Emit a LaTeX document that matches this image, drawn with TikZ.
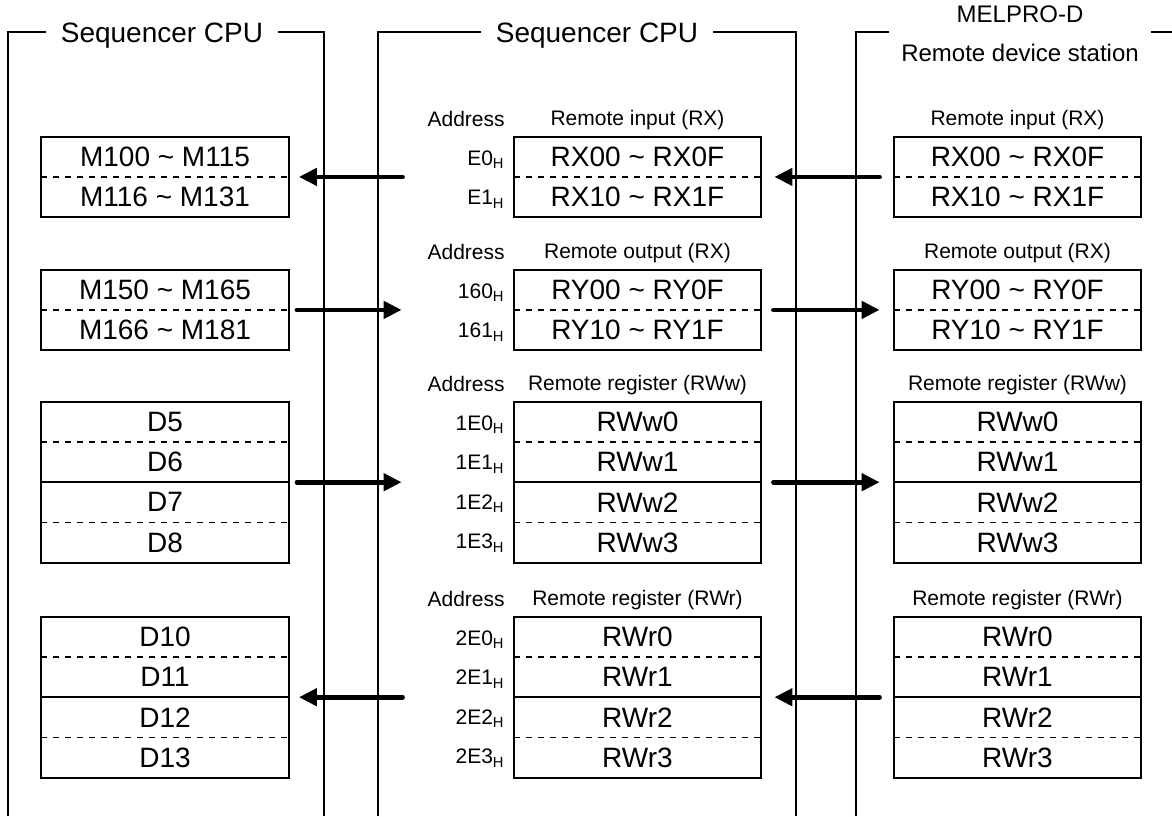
\documentclass[tikz,border=0pt]{standalone}
\usepackage{fontspec}
\setmainfont{Liberation Sans}
\usetikzlibrary{arrows.meta,positioning}

\tikzset{
  cell/.style={minimum width=123.5pt, minimum height=19.75pt, inner sep=0pt, font=\fontsize{14}{16}\selectfont},
  headlbl/.style={inner sep=0pt, font=\fontsize{10.5}{12}\selectfont},
  addr/.style={headlbl, anchor=base east},
  paneltitle/.style={fill=white, inner xsep=7.5pt, inner ysep=1pt, font=\fontsize{14}{16}\selectfont},
  boxline/.style={line width=1pt},
  panelline/.style={line width=0.85pt},
  divline/.style={line width=0.75pt, dash pattern=on 3pt off 3pt},
  dataflow/.style={line width=2.3pt, line cap=round, -{Triangle[length=9pt,width=8.5pt]}}
}

\begin{document}
\begin{tikzpicture}[x=0.5pt,y=-0.5pt]
	\useasboundingbox (0,0) rectangle (1172,816);
	\draw [panelline] (8,816) -- (8,32) -- (324,32) -- (324,816);
	\draw [panelline] (378,816) -- (378,32) -- (796,32) -- (796,816);
	\draw [panelline] (856,816) -- (856,32) -- (1172,32);
	\node [paneltitle, anchor=base] (cpua) at (162,42) {Sequencer CPU};
	\node [paneltitle, anchor=base] (cpub) at (597,42) {Sequencer CPU};
	\node [paneltitle, align=center, inner xsep=6.25pt, font=\fontsize{12}{19.5}\selectfont] (station) at (1020,34) {MELPRO-D\\Remote device station};

	% sequencer CPU (own)
	\node [cell] (m100) at (165,156.75) {M100 \textasciitilde{} M115};
	\node [cell, below=0pt of m100] (m116) {M116 \textasciitilde{} M131};
	\draw [boxline] (m100.north west) rectangle (m116.south east);
	\draw [divline] (m100.south west) -- (m100.south east);

	\node [cell] (m150) at (165,289.75) {M150 \textasciitilde{} M165};
	\node [cell, below=0pt of m150] (m166) {M166 \textasciitilde{} M181};
	\draw [boxline] (m150.north west) rectangle (m166.south east);
	\draw [divline] (m150.south west) -- (m150.south east);

	\node [cell] (d5) at (165,421.75) {D5};
	\node [cell, below=0pt of d5] (d6) {D6};
	\node [cell, below=0pt of d6] (d7) {D7};
	\node [cell, below=0pt of d7] (d8) {D8};
	\draw [boxline] (d5.north west) rectangle (d8.south east);
	\draw [divline] (d5.south west) -- (d5.south east);
	\draw [boxline] (d6.south west) -- (d6.south east);
	\draw [divline] (d7.south west) -- (d7.south east);

	\node [cell] (d10) at (165,636.75) {D10};
	\node [cell, below=0pt of d10] (d11) {D11};
	\node [cell, below=0pt of d11] (d12) {D12};
	\node [cell, below=0pt of d12] (d13) {D13};
	\draw [boxline] (d10.north west) rectangle (d13.south east);
	\draw [divline] (d10.south west) -- (d10.south east);
	\draw [boxline] (d11.south west) -- (d11.south east);
	\draw [divline] (d12.south west) -- (d12.south east);

	% sequencer CPU (master)
	\node [cell] (cpurx0) at (637.5,156.75) {RX00 \textasciitilde{} RX0F};
	\node [cell, below=0pt of cpurx0] (cpurx1) {RX10 \textasciitilde{} RX1F};
	\draw [boxline] (cpurx0.north west) rectangle (cpurx1.south east);
	\draw [divline] (cpurx0.south west) -- (cpurx0.south east);
	\node [headlbl, above=5.5pt of cpurx0.north, anchor=base] (hcpurx) {Remote input (RX)};
	\node [addr] (acpurx) at (505,126) {Address};
	\node [addr] (acpurx0) at (505,165.25) {E0\textsubscript{H}};
	\node [addr] (acpurx1) at (505,204.75) {E1\textsubscript{H}};

	\node [cell] (cpury0) at (637.5,289.75) {RY00 \textasciitilde{} RY0F};
	\node [cell, below=0pt of cpury0] (cpury1) {RY10 \textasciitilde{} RY1F};
	\draw [boxline] (cpury0.north west) rectangle (cpury1.south east);
	\draw [divline] (cpury0.south west) -- (cpury0.south east);
	\node [headlbl, above=5.5pt of cpury0.north, anchor=base] (hcpury) {Remote output (RX)};
	\node [addr] (acpury) at (505,259) {Address};
	\node [addr] (acpury0) at (505,298.25) {160\textsubscript{H}};
	\node [addr] (acpury1) at (505,337.75) {161\textsubscript{H}};

	\node [cell] (cpurww0) at (637.5,421.75) {RWw0};
	\node [cell, below=0pt of cpurww0] (cpurww1) {RWw1};
	\node [cell, below=0pt of cpurww1] (cpurww2) {RWw2};
	\node [cell, below=0pt of cpurww2] (cpurww3) {RWw3};
	\draw [boxline] (cpurww0.north west) rectangle (cpurww3.south east);
	\draw [divline] (cpurww0.south west) -- (cpurww0.south east);
	\draw [boxline] (cpurww1.south west) -- (cpurww1.south east);
	\draw [divline] (cpurww2.south west) -- (cpurww2.south east);
	\node [headlbl, above=5.5pt of cpurww0.north, anchor=base] (hcpurww) {Remote register (RWw)};
	\node [addr] (acpurww) at (505,391) {Address};
	\node [addr] (acpurww0) at (505,430.25) {1E0\textsubscript{H}};
	\node [addr] (acpurww1) at (505,469.75) {1E1\textsubscript{H}};
	\node [addr] (acpurww2) at (505,509.25) {1E2\textsubscript{H}};
	\node [addr] (acpurww3) at (505,548.75) {1E3\textsubscript{H}};

	\node [cell] (cpurwr0) at (637.5,636.75) {RWr0};
	\node [cell, below=0pt of cpurwr0] (cpurwr1) {RWr1};
	\node [cell, below=0pt of cpurwr1] (cpurwr2) {RWr2};
	\node [cell, below=0pt of cpurwr2] (cpurwr3) {RWr3};
	\draw [boxline] (cpurwr0.north west) rectangle (cpurwr3.south east);
	\draw [divline] (cpurwr0.south west) -- (cpurwr0.south east);
	\draw [boxline] (cpurwr1.south west) -- (cpurwr1.south east);
	\draw [divline] (cpurwr2.south west) -- (cpurwr2.south east);
	\node [headlbl, above=5.5pt of cpurwr0.north, anchor=base] (hcpurwr) {Remote register (RWr)};
	\node [addr] (acpurwr) at (505,606) {Address};
	\node [addr] (acpurwr0) at (505,645.25) {2E0\textsubscript{H}};
	\node [addr] (acpurwr1) at (505,684.75) {2E1\textsubscript{H}};
	\node [addr] (acpurwr2) at (505,724.25) {2E2\textsubscript{H}};
	\node [addr] (acpurwr3) at (505,763.75) {2E3\textsubscript{H}};

	% remote device station
	\node [cell] (strx0) at (1017.5,156.75) {RX00 \textasciitilde{} RX0F};
	\node [cell, below=0pt of strx0] (strx1) {RX10 \textasciitilde{} RX1F};
	\draw [boxline] (strx0.north west) rectangle (strx1.south east);
	\draw [divline] (strx0.south west) -- (strx0.south east);
	\node [headlbl, above=5.5pt of strx0.north, anchor=base] (hstrx) {Remote input (RX)};

	\node [cell] (stry0) at (1017.5,289.75) {RY00 \textasciitilde{} RY0F};
	\node [cell, below=0pt of stry0] (stry1) {RY10 \textasciitilde{} RY1F};
	\draw [boxline] (stry0.north west) rectangle (stry1.south east);
	\draw [divline] (stry0.south west) -- (stry0.south east);
	\node [headlbl, above=5.5pt of stry0.north, anchor=base] (hstry) {Remote output (RX)};

	\node [cell] (strww0) at (1017.5,421.75) {RWw0};
	\node [cell, below=0pt of strww0] (strww1) {RWw1};
	\node [cell, below=0pt of strww1] (strww2) {RWw2};
	\node [cell, below=0pt of strww2] (strww3) {RWw3};
	\draw [boxline] (strww0.north west) rectangle (strww3.south east);
	\draw [divline] (strww0.south west) -- (strww0.south east);
	\draw [boxline] (strww1.south west) -- (strww1.south east);
	\draw [divline] (strww2.south west) -- (strww2.south east);
	\node [headlbl, above=5.5pt of strww0.north, anchor=base] (hstrww) {Remote register (RWw)};

	\node [cell] (strwr0) at (1017.5,636.75) {RWr0};
	\node [cell, below=0pt of strwr0] (strwr1) {RWr1};
	\node [cell, below=0pt of strwr1] (strwr2) {RWr2};
	\node [cell, below=0pt of strwr2] (strwr3) {RWr3};
	\draw [boxline] (strwr0.north west) rectangle (strwr3.south east);
	\draw [divline] (strwr0.south west) -- (strwr0.south east);
	\draw [boxline] (strwr1.south west) -- (strwr1.south east);
	\draw [divline] (strwr2.south west) -- (strwr2.south east);
	\node [headlbl, above=5.5pt of strwr0.north, anchor=base] (hstrwr) {Remote register (RWr)};

	% arrows
	\draw [dataflow, shorten <=55.5pt, shorten >=5pt] (cpurx0.south west) -- (m100.south east);
	\draw [dataflow, shorten <=7pt, shorten >=6.5pt] (strx0.south west) -- (cpurx0.south east);
	\draw [dataflow, shorten <=4pt, shorten >=56pt] (m150.south east) -- (cpury0.south west);
	\draw [dataflow, shorten <=6pt, shorten >=7pt] (cpury0.south east) -- (stry0.south west);
	\draw [dataflow, shorten <=4pt, shorten >=56pt] (d6.south east) -- (cpurww1.south west);
	\draw [dataflow, shorten <=6pt, shorten >=7pt] (cpurww1.south east) -- (strww1.south west);
	\draw [dataflow, shorten <=55.5pt, shorten >=5pt] (cpurwr1.south west) -- (d11.south east);
	\draw [dataflow, shorten <=7pt, shorten >=6.5pt] (strwr1.south west) -- (cpurwr1.south east);
\end{tikzpicture}
\end{document}
